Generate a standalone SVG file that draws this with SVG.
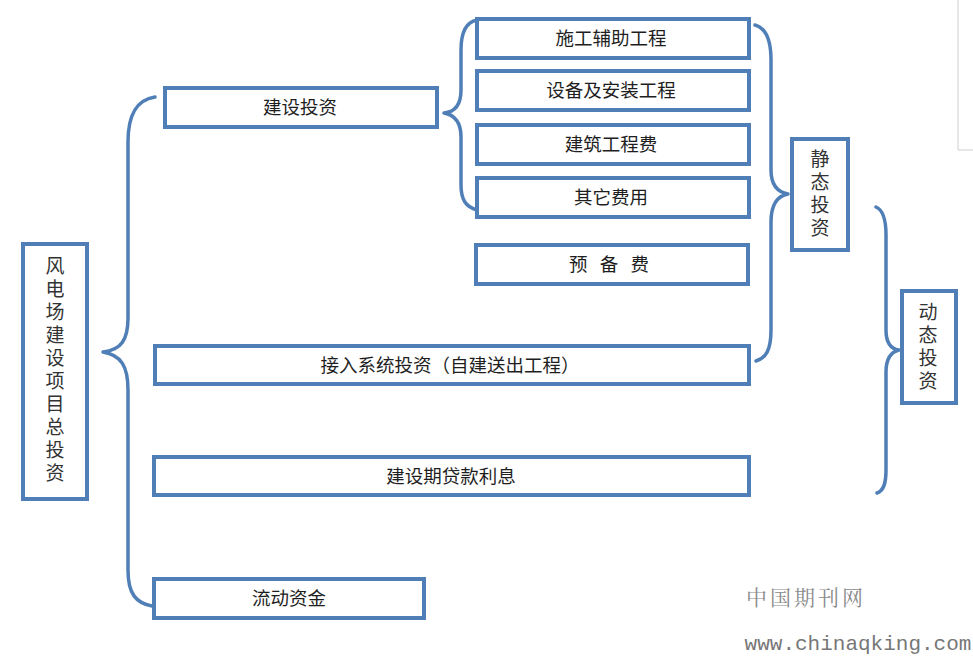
<svg xmlns="http://www.w3.org/2000/svg" width="973" height="656" viewBox="0 0 973 656">
<style>
.box{fill:#fff;stroke:#4f7fb6;stroke-width:4}
.br{fill:none;stroke:#4f7fb6;stroke-width:3.5;stroke-linecap:round;stroke-linejoin:round}
.t{font-family:"Microsoft YaHei","Noto Sans CJK SC","Noto Sans",sans-serif;font-size:18.5px;fill:#1e1e1e;text-anchor:middle}
.v{font-family:"Noto Sans CJK SC","Noto Sans",sans-serif;font-size:19px;fill:#333;writing-mode:vertical-rl;text-orientation:upright;letter-spacing:4px}
</style>
<rect width="973" height="656" fill="#fff"/>
<path d="M958,0 V150 H973" fill="none" stroke="#cfcfcf" stroke-width="1"/>
<g id="connectors">
<path class="br" d="M155,97 C136,100 128,115 128,142 L128,318 C128,340 121,350 103,352 C121,355 128,366 128,390 L128,570 C128,594 136,603 152,606"/>
<path class="br" d="M477,20 C466,22 461,32 461,50 L461,90 C461,105 455,112 444,113 C455,115 461,122 461,137 L461,185 C461,200 466,207 477,210"/>
<path class="br" d="M755,25 C766,28 771,40 771,60 L771,170 C771,185 777,192 788,194 C777,196 771,205 771,222 L771,330 C771,350 766,358 756,361"/>
<path class="br" d="M876,207 C883,210 886,220 886,235 L886,330 C886,343 891,349 899,350 C891,352 886,358 886,372 L886,470 C886,485 883,491 877,493"/>
</g>
<g id="n-total"><rect class="box" x="23" y="244" width="64" height="255"/>
<text class="v" x="55" y="256">风电场建设项目总投资</text></g>
<g id="n-jianshe"><rect class="box" x="165" y="88" width="272" height="39"/><text class="t" x="300" y="114">建设投资</text></g>
<g id="n-shigong"><rect class="box" x="477" y="19" width="272" height="39"/><text class="t" x="611" y="45">施工辅助工程</text></g>
<g id="n-shebei"><rect class="box" x="477" y="71" width="272" height="39"/><text class="t" x="611" y="97">设备及安装工程</text></g>
<g id="n-jianzhu"><rect class="box" x="477" y="125" width="272" height="39"/><text class="t" x="611" y="151">建筑工程费</text></g>
<g id="n-qita"><rect class="box" x="477" y="178" width="272" height="39"/><text class="t" x="611" y="204">其它费用</text></g>
<g id="n-yubei"><rect class="box" x="476" y="245" width="272" height="39"/><text class="t" x="609" y="271" style="word-spacing:8px">预 备 费</text></g>
<g id="n-jingtai"><rect class="box" x="792" y="139" width="56" height="111"/>
<text class="v" x="820" y="149">静态投资</text></g>
<g id="n-jieru"><rect class="box" x="155" y="346" width="594" height="38"/><text class="t" x="450" y="372">接入系统投资（自建送出工程）</text></g>
<g id="n-lixi"><rect class="box" x="154" y="457" width="595" height="38"/><text class="t" x="451" y="483">建设期贷款利息</text></g>
<g id="n-liudong"><rect class="box" x="154" y="579" width="270" height="39"/><text class="t" x="289" y="605">流动资金</text></g>
<g id="n-dongtai"><rect class="box" x="902" y="291" width="54" height="112"/>
<text class="v" x="928" y="302">动态投资</text></g>
<text x="806" y="605" style="font-family:'Noto Serif CJK SC','Noto Sans CJK SC',serif;font-size:21px;fill:#8a8a8a;letter-spacing:3px;text-anchor:middle">中国期刊网</text>
<text x="858" y="650" style="font-family:'Liberation Mono',monospace;font-size:21px;fill:#777;text-anchor:middle">www.chinaqking.com</text>
</svg>
